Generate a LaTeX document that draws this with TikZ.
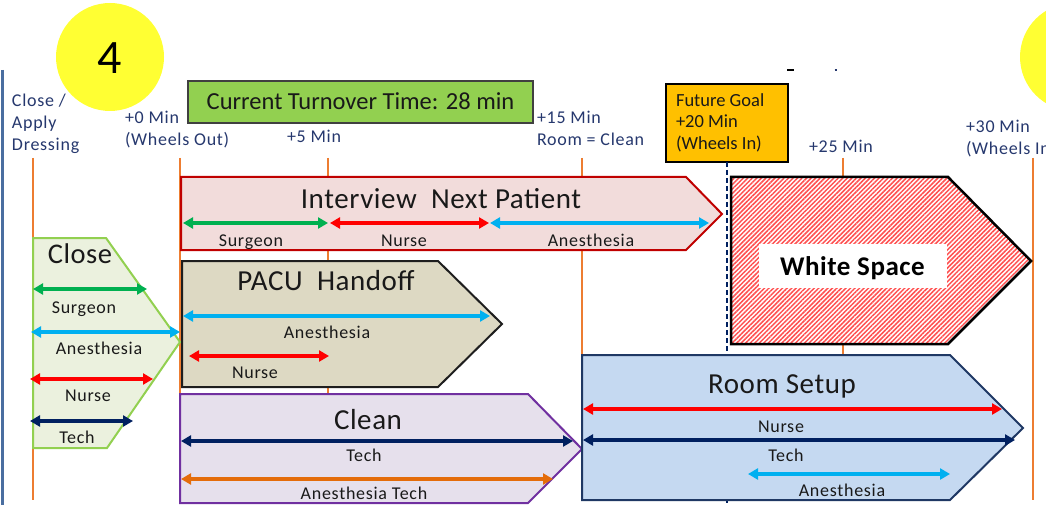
\documentclass[tikz,border=0pt]{standalone}
\usepackage{fontspec}
\setmainfont{Carlito}
\newfontfamily\lblfont[LetterSpace=4]{Carlito}
\newfontfamily\ttlfont[LetterSpace=2]{Carlito}
\usetikzlibrary{arrows.meta,patterns.meta}

\definecolor{tickorange}{RGB}{237,125,49}
\definecolor{timeblue}{RGB}{38,56,110}
\definecolor{edgeblue}{RGB}{74,110,160}
\definecolor{inkdark}{RGB}{25,25,25}
\definecolor{dotyellow}{RGB}{255,255,51}
\definecolor{nowgreen}{RGB}{146,208,80}
\definecolor{goalamber}{RGB}{255,192,0}
\definecolor{closefill}{RGB}{235,241,222}
\definecolor{closeedge}{RGB}{146,208,80}
\definecolor{intfill}{RGB}{242,220,219}
\definecolor{intedge}{RGB}{192,0,0}
\definecolor{pacufill}{RGB}{221,217,195}
\definecolor{pacuedge}{RGB}{30,30,30}
\definecolor{cleanfill}{RGB}{230,224,236}
\definecolor{cleanedge}{RGB}{112,48,160}
\definecolor{setupfill}{RGB}{197,217,241}
\definecolor{setupedge}{RGB}{31,56,100}
\definecolor{hatchred}{RGB}{255,80,80}
\definecolor{surgeongreen}{RGB}{0,176,80}
\definecolor{nursered}{RGB}{255,0,0}
\definecolor{anescyan}{RGB}{0,176,240}
\definecolor{technavy}{RGB}{0,32,96}
\definecolor{atechorange}{RGB}{228,108,10}

\begin{document}
\begin{tikzpicture}[x=1pt,y=-1pt,
  every node/.style={inner sep=0pt,outer sep=0pt},
  tick/.style={draw=tickorange,line width=2.2pt},
  timetext/.style={text=timeblue,font=\lblfont\fontsize{18}{21}\selectfont,anchor=base west},
  phasetitle/.style={text=inkdark,font=\ttlfont\fontsize{29}{34}\selectfont,anchor=base},
  rolelabel/.style={text=inkdark,font=\lblfont\fontsize{18}{21}\selectfont,anchor=base},
  rolebar/.style={line width=3.5pt,{Triangle[length=10pt,width=11pt]}-{Triangle[length=10pt,width=11pt]}},
  phase/.style={line width=2pt,line join=miter},
  goaldash/.style={draw=technavy,line width=1.8pt,dash pattern=on 5pt off 3pt},
]
\useasboundingbox (0,0) rectangle (1046,505);
\fill[white] (0,0) rectangle (1046,505);

% left margin rule
\draw[edgeblue,line width=3pt] (2.5,70) -- (2.5,505);

% step markers
\fill[dotyellow] (110,57) circle (54);
\node[anchor=base,font=\fontsize{48}{54}\selectfont,text=black] (stepfour) at (110,74) {4};
\fill[dotyellow] (1074,57) circle (54);

% time ticks
\foreach \tx/\tn in {33/tclose,180/tzero,328/tfive,582/tfifteen,843/ttwentyfive,1033/tthirty}{
  \coordinate (\tn top) at (\tx,158);
  \coordinate (\tn bot) at (\tx,500);
  \draw[tick] (\tn top) -- (\tn bot);
}

% time labels
\node[timetext] (lclosea) at (12,107) {Close /};
\node[timetext] (lcloseb) at (12,129) {Apply};
\node[timetext] (lclosec) at (12,151) {Dressing};
\node[timetext] (lzeroa) at (125,124) {+0 Min};
\node[timetext] (lzerob) at (125,146) {(Wheels Out)};
\node[timetext] (lfive) at (287,143) {+5 Min};
\node[timetext] (lfifteena) at (537,124) {+15 Min};
\node[timetext] (lfifteenb) at (537,146) {Room = Clean};
\node[timetext] (ltwentyfive) at (809,153) {+25 Min};
\node[timetext] (lthirtya) at (966,133) {+30 Min};
\node[timetext] (lthirtyb) at (966,155) {(Wheels In)};

% stray marks near the top
\draw[black,line width=1.5pt] (787,70) -- (794,70);
\draw[timeblue,line width=1.5pt] (834.5,70) -- (836.5,70);

% current turnover banner
\node[draw=black!75,line width=1.5pt,fill=nowgreen,minimum width=345pt,minimum height=42pt,
      text height=15.8pt,text depth=0pt,font=\fontsize{24.5}{28}\selectfont,text=inkdark]
      (current) at (360.5,102) {Current Turnover Time: 28 min};

% future goal box
\node[draw=black,line width=1.5pt,fill=goalamber,minimum width=122pt,minimum height=78pt]
      (goal) at (727,123) {};
\node[timetext,text=inkdark,font=\fontsize{18.5}{21}\selectfont] (goala) at (676,107) {Future Goal};
\node[timetext,text=inkdark,font=\fontsize{18.5}{21}\selectfont] (goalb) at (676,128) {+20 Min};
\node[timetext,text=inkdark,font=\fontsize{18.5}{21}\selectfont] (goalc) at (676,150) {(Wheels In)};
\coordinate (goalfoot) at (727,505);
\draw[goaldash] (goal.south) -- (goalfoot);

% Close
\draw[phase,draw=closeedge,fill=closefill] (33,238) -- (106,238) -- (180,342) -- (107,448) -- (33,448) -- cycle;
\node[phasetitle,font=\ttlfont\fontsize{28.5}{32}\selectfont] (closet) at (80,263) {Close};
\draw[rolebar,surgeongreen] (33,289) -- (147,289);
\node[rolelabel] (closes) at (84,313) {Surgeon};
\draw[rolebar,anescyan] (31,332) -- (180,332);
\node[rolelabel] (closea) at (99,354) {Anesthesia};
\draw[rolebar,nursered] (30,379) -- (153,379);
\node[rolelabel] (closen) at (88,401) {Nurse};
\draw[rolebar,technavy] (30,421) -- (133,421);
\node[rolelabel] (closech) at (77,443) {Tech};

% Interview Next Patient
\draw[phase,draw=intedge,fill=intfill] (181,177) -- (686,177) -- (722,214) -- (686,250) -- (181,250) -- cycle;
\node[phasetitle] (intt) at (441,208) {Interview\ \ Next Patient};
\draw[rolebar,surgeongreen] (183,223) -- (328,223);
\draw[rolebar,nursered] (330,223) -- (489,223);
\draw[rolebar,anescyan] (490,223) -- (709,223);
\node[rolelabel] (ints) at (251,246) {Surgeon};
\node[rolelabel] (intn) at (404,246) {Nurse};
\node[rolelabel] (inta) at (591,246) {Anesthesia};

% PACU Handoff
\draw[phase,draw=pacuedge,fill=pacufill] (182,261) -- (438,261) -- (502,324) -- (438,387) -- (182,387) -- cycle;
\node[phasetitle] (pacut) at (326,290) {PACU\ \ Handoff};
\draw[rolebar,anescyan] (183,316) -- (490,316);
\node[rolelabel] (pacua) at (327,338) {Anesthesia};
\draw[rolebar,nursered] (189,356) -- (329,356);
\node[rolelabel] (pacun) at (255,378) {Nurse};

% Clean
\draw[phase,draw=cleanedge,fill=cleanfill] (180,394) -- (528,394) -- (582,449) -- (528,503) -- (180,503) -- cycle;
\node[phasetitle] (cleant) at (368,429) {Clean};
\draw[rolebar,technavy] (181,441) -- (573,441);
\node[rolelabel] (cleanch) at (364,461) {Tech};
\draw[rolebar,atechorange] (181,479) -- (553,479);
\node[rolelabel] (cleanat) at (364,499) {Anesthesia Tech};

% Room Setup
\draw[phase,draw=setupedge,fill=setupfill] (582,355) -- (950,355) -- (1023,428) -- (950,500) -- (582,500) -- cycle;
\node[phasetitle] (setupt) at (782,393) {Room Setup};
\draw[rolebar,nursered] (583,409) -- (1002,409);
\node[rolelabel] (setupn) at (781,432) {Nurse};
\draw[rolebar,technavy] (583,440) -- (1015,440);
\node[rolelabel] (setupch) at (786,461) {Tech};
\draw[rolebar,anescyan] (748,474) -- (950,474);
\node[rolelabel] (setupa) at (842,496) {Anesthesia};

% White Space
\path[preaction={fill=white},pattern={Lines[angle=45,distance=3.2pt,line width=1.5pt]},pattern color=hatchred]
  (731,177) -- (948,177) -- (1031,261) -- (948,344) -- (731,344) -- cycle;
\draw[line width=2.5pt,line join=miter,black] (731,177) -- (948,177) -- (1031,261) -- (948,344) -- (731,344) -- cycle;
\node[fill=white,minimum width=188pt,minimum height=44pt] (wsbox) at (853,266) {};
\node[anchor=base,font=\ttlfont\fontsize{27}{31}\selectfont\bfseries,text=black] (wst) at (852.5,275) {White Space};
\end{tikzpicture}
\end{document}
